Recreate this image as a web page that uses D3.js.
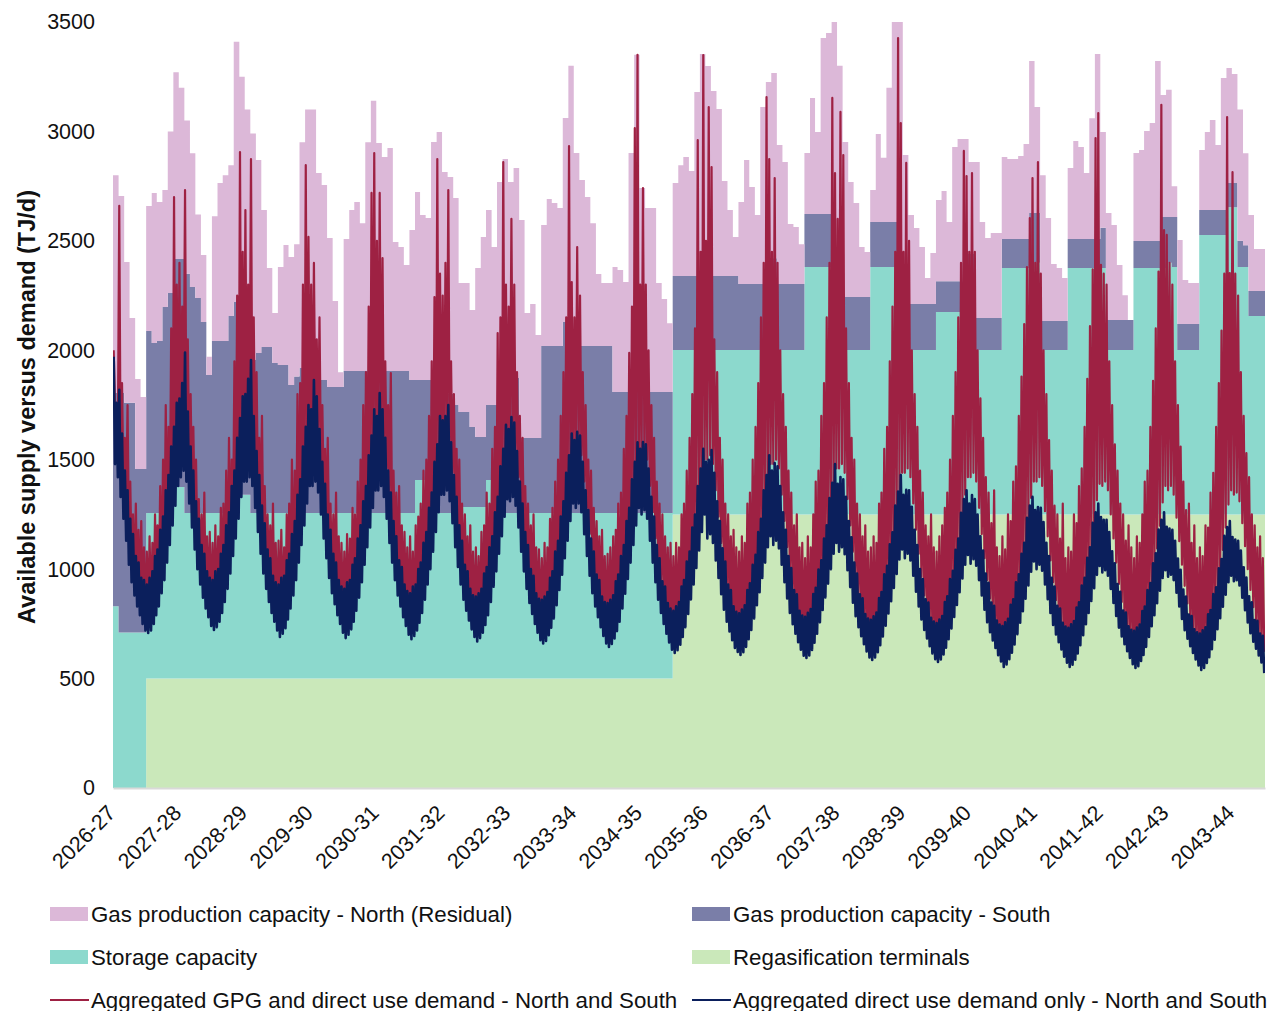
<!DOCTYPE html>
<html>
<head>
<meta charset="utf-8">
<script src="https://cdn.jsdelivr.net/npm/d3@7"></script>
<style>
  body { margin: 0; background: #ffffff; }
  svg text { font-family: "Liberation Sans", Arial, sans-serif; fill: #111; }
</style>
</head>
<body>
<svg id="chart" width="1273" height="1011"></svg>
<script>
// ---- Data -------------------------------------------------------------
// Financial years on the x axis (ticks on 1 July)
const yearLabels = ["2026-27","2027-28","2028-29","2029-30","2030-31","2031-32","2032-33","2033-34","2034-35",
  "2035-36","2036-37","2037-38","2038-39","2039-40","2040-41","2041-42","2042-43","2043-44"];

// Monthly supply capacity (TJ/d), one row per financial year, July..June (last row July..December)
const regasTerminals = [
  [0,0,0,0,0,0,500,500,500,500,500,500],
  [500,500,500,500,500,500,500,500,500,500,500,500],
  [500,500,500,500,500,500,500,500,500,500,500,500],
  [500,500,500,500,500,500,500,500,500,500,500,500],
  [500,500,500,500,500,500,500,500,500,500,500,500],
  [500,500,500,500,500,500,500,500,500,500,500,500],
  [500,500,500,500,500,500,500,500,500,500,500,500],
  [500,500,500,500,500,500,500,500,500,500,500,500],
  [500,500,500,500,500,500,1250,1250,1250,1250,1250,1250],
  [1250,1250,1250,1250,1250,1250,1250,1250,1250,1250,1250,1250],
  [1250,1250,1250,1250,1250,1250,1250,1250,1250,1250,1250,1250],
  [1250,1250,1250,1250,1250,1250,1250,1250,1250,1250,1250,1250],
  [1250,1250,1250,1250,1250,1250,1250,1250,1250,1250,1250,1250],
  [1250,1250,1250,1250,1250,1250,1250,1250,1250,1250,1250,1250],
  [1250,1250,1250,1250,1250,1250,1250,1250,1250,1250,1250,1250],
  [1250,1250,1250,1250,1250,1250,1250,1250,1250,1250,1250,1250],
  [1250,1250,1250,1250,1250,1250,1250,1250,1250,1250,1250,1250],
  [1250,1250,1250,1250,1250,1250]
];

const storageCapacity = [
  [830,710,710,710,710,710,757,757,757,757,875,875],
  [875,757,757,757,757,757,757,757,757,757,840,840],
  [840,757,757,757,757,757,757,757,757,757,757,757],
  [757,757,757,757,757,757,757,757,757,757,757,757],
  [757,757,757,757,757,757,757,907,907,757,757,757],
  [757,757,757,784,784,784,784,784,907,907,757,757],
  [757,757,757,757,757,757,757,757,757,757,757,757],
  [757,757,757,757,757,757,757,757,757,757,757,757],
  [757,757,757,757,757,757,751,751,751,751,751,751],
  [751,751,751,751,751,751,751,751,751,751,751,751],
  [751,751,751,751,751,751,1131,1131,1131,1131,1131,751],
  [751,751,751,751,751,751,1131,1131,1131,1131,1131,751],
  [751,751,751,751,751,751,925,925,925,925,925,1039],
  [1039,751,751,751,751,751,1126,1126,1126,1126,1126,1150],
  [1150,751,751,751,751,751,1126,1126,1126,1126,1126,1126],
  [1126,751,751,751,751,751,1126,1126,1126,1126,1126,1126],
  [1150,1130,751,751,751,751,1277,1277,1277,1277,1277,1404],
  [1404,1131,1131,907,907,907]
];

const southProduction = [
  [975,1095,1050,1050,748,748,831,776,785,941,887,1042],
  [1042,1093,1032,982,872,630,785,785,785,900,881,881],
  [760,699,731,758,758,685,676,676,584,623,662,662],
  [607,607,607,575,575,575,648,648,648,648,648,648],
  [648,648,648,648,648,648,607,457,457,607,607,543],
  [543,543,493,434,434,366,320,320,343,343,616,616],
  [616,616,342,342,342,342,763,763,763,763,872,763],
  [763,763,763,763,763,763,763,552,552,552,552,552],
  [552,552,552,552,552,552,338,338,338,338,338,338],
  [457,338,338,338,338,338,302,302,302,302,302,302],
  [420,302,302,302,302,302,242,242,242,242,242,242],
  [242,242,242,242,242,242,205,205,205,205,205,210],
  [210,210,210,210,210,210,141,141,141,141,141,151],
  [151,147,147,147,147,147,132,132,132,132,132,227],
  [227,133,133,133,133,133,132,132,132,132,132,132],
  [184,137,137,137,137,137,123,123,123,123,123,233],
  [209,229,119,119,119,119,114,114,114,114,114,110],
  [110,119,99,114,114,114]
];

const northResidual = [
  [995,900,643,388,411,329,571,686,636,534,738,853],
  [783,700,611,381,306,83,571,722,758,689,1189,1029],
  [1000,1034,881,626,361,228,447,548,585,605,1031,1181],
  [1236,946,891,681,393,68,603,736,773,676,1045,1235],
  [1042,978,1019,590,567,485,686,859,754,740,1088,1197],
  [1015,992,946,589,589,534,772,914,891,722,896,1001],
  [896,960,996,571,612,471,552,671,653,630,932,1280],
  [881,758,680,561,328,287,287,571,558,503,1092,1541],
  [932,841,841,498,425,315,425,507,544,480,841,1015],
  [841,846,763,434,302,179,375,567,443,315,809,923],
  [846,635,557,274,260,182,278,530,374,804,827,1257],
  [1057,709,526,430,229,206,146,402,294,614,914,1289],
  [681,407,348,261,119,233,371,412,270,613,649,525],
  [420,712,438,365,388,388,375,366,366,380,434,695],
  [485,666,470,260,242,196,325,448,421,302,552,846],
  [437,489,434,252,114,0,402,416,503,539,823,557],
  [581,141,384,201,187,187,274,356,411,297,603,526],
  [498,600,420,347,192,192]
];

// Half-monthly daily demand range (TJ/d): upper and lower daily values in each half month
const gpgDemandHigh = [
  [2000,1700,2660,1850,1600,1750,1400,1250,1300,1180,1220,1100,1080,1150,1120,1250,1200,1380,1500,1750,1650,2100,2700,2300],
  [2400,2200,2732,2050,1800,1650,1500,1320,1250,1350,1150,1170,1120,1200,1150,1280,1300,1450,1600,1500,1950,2250,2906,2450],
  [2641,2300,2874,2150,1900,1600,1700,1380,1250,1200,1300,1120,1130,1180,1100,1250,1300,1500,1450,1800,1850,2300,2846,2518],
  [2300,2399,2050,2150,1750,1550,1600,1300,1250,1350,1150,1120,1080,1160,1140,1280,1250,1400,1500,1750,1900,2200,2719,2901],
  [2500,2719,2421,1950,1750,1896,1450,1350,1380,1200,1170,1100,1150,1080,1200,1240,1300,1450,1500,1700,1950,2243,2874,2350],
  [2250,2400,2732,1950,1800,1550,1500,1300,1250,1150,1200,1080,1100,1060,1170,1200,1350,1300,1550,1650,2079,2150,2860,2300],
  [2200,2600,2300,1900,1700,1600,1380,1300,1200,1250,1100,1090,1050,1120,1100,1230,1280,1400,1500,1700,1900,2150,2933,2312],
  [2150,2472,2250,1900,1750,1500,1450,1280,1220,1150,1180,1060,1070,1100,1150,1180,1300,1350,1550,1700,1988,2200,3015,3350],
  [2300,2741,2300,2000,1750,1600,1400,1300,1250,1150,1100,1120,1060,1120,1100,1250,1300,1450,1600,1800,2100,2960,2450,3349],
  [2500,3111,2837,2050,1900,1600,1500,1300,1250,1150,1180,1100,1080,1150,1120,1300,1350,1500,1650,1850,2150,2400,3157,2874],
  [2450,2787,2400,2000,1800,1650,1450,1350,1200,1250,1100,1120,1050,1150,1100,1250,1400,1450,1700,1850,2150,2400,3153,2810],
  [2600,3089,2892,2100,1850,1600,1500,1300,1250,1150,1200,1080,1100,1150,1120,1300,1350,1550,1650,1950,2200,2450,3427,3038],
  [2450,2856,2500,2000,1800,1650,1450,1350,1200,1150,1250,1100,1080,1150,1200,1280,1350,1500,1700,1900,2150,2400,2911,2796],
  [2450,2810,2450,2000,1780,1600,1420,1350,1210,1360,1100,1060,1150,1090,1250,1220,1400,1470,1700,1880,2120,2380,2604,2787],
  [2400,2860,2350,2000,1800,1590,1450,1290,1250,1140,1300,1050,1100,1080,1250,1210,1380,1460,1650,1870,2110,2370,2970,3084],
  [2390,2350,2300,1950,1750,1570,1450,1300,1250,1130,1200,1100,1050,1150,1120,1250,1400,1450,1650,1860,2100,2360,3122,2549],
  [2527,2400,2300,1950,1750,1560,1400,1270,1300,1120,1200,1050,1100,1060,1200,1190,1350,1440,1650,1850,2090,2350,3066,2353],
  [2814,2350,2250,1900,1700,1530,1420,1250,1200,1100,1150,1050]
];

const gpgDemandLow = [
  [1750,1600,1500,1400,1300,1150,1050,960,900,850,820,790,780,800,830,870,920,980,1060,1150,1260,1380,1500,1600],
  [1650,1700,1650,1500,1380,1250,1120,1020,950,890,840,800,790,810,840,880,930,1000,1080,1180,1290,1400,1520,1620],
  [1650,1700,1650,1500,1370,1240,1110,1010,940,880,830,790,770,790,820,860,910,980,1060,1160,1270,1380,1500,1600],
  [1620,1650,1600,1480,1350,1220,1100,1000,930,870,820,780,760,780,810,850,900,970,1050,1150,1250,1360,1480,1580],
  [1600,1630,1580,1460,1330,1200,1080,990,920,860,810,770,750,770,800,840,890,960,1040,1130,1230,1340,1460,1560],
  [1580,1600,1560,1440,1310,1180,1070,980,910,850,800,760,740,760,790,830,880,950,1030,1120,1220,1330,1450,1540],
  [1560,1580,1540,1420,1290,1170,1060,970,900,840,790,750,730,750,780,820,870,940,1020,1110,1210,1320,1440,1530],
  [1540,1560,1520,1400,1280,1160,1050,960,890,830,780,740,720,740,770,810,860,930,1010,1100,1200,1310,1430,1520],
  [1520,1540,1500,1380,1260,1140,1030,940,870,810,760,720,700,720,750,790,840,910,990,1080,1180,1290,1410,1500],
  [1500,1520,1480,1360,1240,1120,1010,920,850,790,740,700,680,700,730,770,820,890,970,1060,1160,1270,1390,1480],
  [1480,1500,1460,1340,1220,1100,990,900,830,770,720,680,660,680,710,750,800,870,950,1040,1140,1250,1370,1460],
  [1460,1480,1440,1320,1200,1080,975,890,820,760,712,672,652,672,702,742,792,862,942,1030,1130,1240,1360,1440],
  [1440,1460,1420,1300,1180,1070,965,880,812,752,705,665,645,665,695,735,785,855,935,1020,1120,1230,1340,1420],
  [1420,1440,1400,1280,1160,1050,950,866,800,742,695,655,635,655,685,725,775,845,925,1010,1110,1215,1325,1400],
  [1400,1420,1380,1265,1150,1040,940,858,792,735,688,648,628,648,678,718,768,838,918,1002,1100,1205,1315,1390],
  [1380,1400,1360,1250,1140,1030,932,850,785,728,682,642,622,642,672,712,762,832,912,996,1094,1198,1305,1380],
  [1360,1380,1340,1235,1128,1020,924,843,779,722,676,636,616,636,666,706,756,826,906,990,1088,1190,1295,1360],
  [1340,1350,1310,1210,1105,1000,905,826,763,707,662,622]
];

const directDemandHigh = [
  [1970,1760,1820,1620,1450,1360,1230,1160,1060,1030,960,950,930,960,990,1060,1090,1180,1240,1360,1430,1560,1650,1760],
  [1780,1850,1990,1720,1560,1450,1310,1230,1110,1070,990,960,950,990,1000,1070,1110,1200,1260,1380,1450,1600,1690,1790],
  [1800,1870,1955,1700,1540,1430,1290,1210,1090,1050,970,940,930,960,970,1040,1070,1160,1220,1340,1410,1560,1650,1750],
  [1730,1864,1790,1640,1490,1390,1250,1180,1070,1030,950,920,910,940,950,1020,1050,1140,1200,1310,1380,1520,1610,1730],
  [1700,1805,1730,1600,1450,1350,1220,1150,1040,1010,930,900,890,920,930,1000,1030,1120,1170,1280,1350,1490,1570,1700],
  [1680,1700,1750,1580,1430,1330,1200,1130,1020,990,910,880,875,890,910,980,1010,1100,1150,1260,1330,1470,1550,1660],
  [1640,1695,1670,1540,1400,1300,1170,1110,1000,970,890,865,860,875,895,960,990,1080,1130,1240,1310,1440,1520,1620],
  [1590,1627,1610,1490,1360,1270,1140,1080,975,950,875,850,845,860,880,945,975,1060,1110,1220,1280,1410,1490,1580],
  [1550,1581,1570,1460,1330,1240,1110,1050,945,920,845,820,810,830,850,920,950,1035,1080,1190,1250,1380,1460,1550],
  [1490,1500,1544,1440,1310,1220,1095,1035,930,905,830,805,798,815,835,905,935,1020,1065,1170,1230,1360,1430,1520],
  [1450,1485,1470,1380,1260,1180,1060,1005,905,885,810,788,782,800,818,886,915,998,1040,1140,1200,1325,1395,1480],
  [1390,1421,1410,1330,1220,1145,1030,980,885,867,795,774,768,785,802,868,895,976,1015,1113,1168,1290,1355,1430],
  [1340,1362,1360,1285,1180,1110,1000,955,862,847,778,760,754,770,786,850,876,955,992,1088,1140,1258,1320,1360],
  [1300,1339,1320,1250,1150,1085,980,938,847,833,765,747,740,757,773,837,862,940,976,1070,1120,1235,1290,1330],
  [1270,1284,1280,1215,1120,1060,960,920,832,820,755,738,732,748,763,825,848,925,960,1052,1100,1212,1260,1300],
  [1238,1225,1225,1170,1082,1027,932,896,811,802,739,723,718,733,747,808,829,904,937,1027,1072,1181,1225,1260],
  [1193,1185,1180,1130,1048,997,907,875,792,786,725,711,706,721,734,794,813,886,917,1004,1046,1152,1192,1220],
  [1147,1135,1130,1085,1008,962,876,848,767,764,706,695]
];

const directDemandLow = [
  [1480,1420,1330,1230,1130,1020,940,880,830,790,750,720,708,720,750,790,830,890,950,1030,1110,1200,1290,1380],
  [1420,1450,1400,1300,1190,1090,1000,930,870,820,780,740,722,735,760,800,850,910,980,1060,1140,1230,1330,1400],
  [1400,1420,1380,1280,1170,1070,980,910,850,800,760,720,690,705,730,770,820,880,950,1030,1110,1200,1300,1380],
  [1380,1400,1350,1250,1140,1050,960,890,840,790,750,710,685,700,725,760,810,870,940,1020,1100,1190,1280,1360],
  [1360,1380,1330,1230,1120,1030,950,880,830,780,740,700,680,695,720,755,800,860,930,1000,1080,1170,1260,1340],
  [1340,1360,1310,1210,1100,1010,930,860,810,765,725,690,670,685,710,745,790,850,920,990,1070,1150,1240,1320],
  [1310,1330,1290,1190,1080,990,910,845,795,750,710,675,660,672,698,732,775,835,905,975,1050,1130,1220,1300],
  [1280,1300,1260,1160,1060,970,890,830,780,735,695,660,645,658,683,717,760,820,888,955,1030,1110,1200,1280],
  [1250,1270,1230,1130,1030,940,860,800,750,705,665,632,617,630,655,690,735,795,862,930,1005,1085,1170,1250],
  [1140,1160,1120,1040,960,885,815,760,715,675,640,622,608,620,645,680,722,775,835,895,960,1030,1100,1150],
  [1110,1130,1095,1020,940,866,800,748,705,666,632,604,594,606,631,664,705,757,813,871,934,1000,1070,1120],
  [1080,1100,1068,995,918,847,785,735,694,657,624,596,585,596,620,652,692,742,797,853,914,978,1044,1090],
  [1050,1070,1040,970,897,830,770,722,683,648,615,588,576,587,610,641,680,729,782,836,895,957,1020,1065],
  [1025,1045,1016,950,880,815,757,712,674,640,607,578,553,565,588,618,656,703,755,808,865,925,988,1035],
  [1000,1020,993,930,863,800,745,702,666,633,600,572,553,563,586,615,652,698,748,800,855,913,974,1015],
  [985,995,970,910,846,786,733,692,657,625,594,566,548,557,580,608,645,690,739,790,844,901,960,995],
  [965,975,950,892,830,772,721,682,648,617,587,560,539,549,571,598,634,678,726,776,828,883,940,970],
  [945,950,925,870,812,756,707,669,637,606,574,525]
];

// ---- Layout -----------------------------------------------------------
const PLOT = { left: 113, right: 1265, top: 22, bottom: 788 };
const seriesColors = {
  north: "#dcb8d8",
  south: "#7a7ea8",
  storage: "#8cd9cd",
  regas: "#cae8ba",
  gpg: "#9e2143",
  direct: "#0b1f5c"
};

const svg = d3.select("#chart");
const startDate = new Date(2026, 6, 1);
const endDate = new Date(2044, 0, 1);

const x = d3.scaleTime().domain([startDate, endDate]).range([PLOT.left, PLOT.right]);
const y = d3.scaleLinear().domain([0, 3500]).range([PLOT.bottom, PLOT.top]);

// ---- Stacked monthly capacity ----------------------------------------
const regasM = regasTerminals.flat();
const storageM = storageCapacity.flat();
const southM = southProduction.flat();
const northM = northResidual.flat();

const monthRows = regasM.map((v, i) => ({
  date: new Date(2026, 6 + i, 1),
  regas: v,
  storage: storageM[i],
  south: southM[i],
  north: northM[i]
}));
// carry the last month through to the end of the axis
monthRows.push(Object.assign({}, monthRows[monthRows.length - 1], { date: endDate }));

const stackKeys = ["regas", "storage", "south", "north"];
const stacked = d3.stack().keys(stackKeys)(monthRows);

svg.append("defs").append("clipPath").attr("id", "plot-clip")
  .append("rect")
  .attr("x", PLOT.left).attr("y", PLOT.top)
  .attr("width", PLOT.right - PLOT.left).attr("height", PLOT.bottom - PLOT.top);

const plot = svg.append("g").attr("clip-path", "url(#plot-clip)");

const area = d3.area()
  .curve(d3.curveStepAfter)
  .x(d => x(d.data.date))
  .y0(d => y(d[0]))
  .y1(d => y(d[1]));

plot.selectAll("path.band")
  .data(stacked)
  .join("path")
  .attr("class", "band")
  .attr("fill", d => seriesColors[d.key])
  .attr("d", area);

// ---- Daily demand ranges drawn as a dense trace --------------------------
function halfMonthTrace(highRows, lowRows) {
  const hi = highRows.flat(), lo = lowRows.flat();
  const pts = [];
  hi.forEach((h, i) => {
    const m = Math.floor(i / 2), second = i % 2 === 1;
    const s = second ? new Date(2026, 6 + m, 16) : new Date(2026, 6 + m, 1);
    const e = second ? new Date(2026, 6 + m + 1, 1) : new Date(2026, 6 + m, 16);
    const span = e - s;
    pts.push({ date: new Date(+s + span * 0.25), v: h });
    pts.push({ date: new Date(+s + span * 0.75), v: lo[i] });
  });
  return pts;
}

const line = d3.line().x(d => x(d.date)).y(d => y(d.v));

plot.append("path")
  .datum(halfMonthTrace(gpgDemandHigh, gpgDemandLow))
  .attr("fill", "none")
  .attr("stroke", seriesColors.gpg)
  .attr("stroke-width", 2.2)
  .attr("stroke-linejoin", "round")
  .attr("d", line);

plot.append("path")
  .datum(halfMonthTrace(directDemandHigh, directDemandLow))
  .attr("fill", "none")
  .attr("stroke", seriesColors.direct)
  .attr("stroke-width", 2.6)
  .attr("stroke-linejoin", "round")
  .attr("d", line);

// ---- Axes ------------------------------------------------------------
const yTicks = d3.range(0, 3501, 500);
const yAxis = svg.append("g")
  .attr("transform", `translate(${PLOT.left},0)`)
  .call(d3.axisLeft(y).tickValues(yTicks).tickSize(0).tickPadding(18).tickFormat(d3.format("d")));
yAxis.select(".domain").remove();
yAxis.selectAll("text")
  .style("font-size", "21.5px")
  .style("font-family", "'Liberation Sans', Arial, sans-serif")
  .attr("fill", "#111");

const yearStarts = yearLabels.map((_, i) => new Date(2026 + i, 6, 1));
const xAxis = svg.append("g")
  .attr("transform", `translate(0,${PLOT.bottom})`)
  .call(d3.axisBottom(x).tickValues(yearStarts).tickSize(0).tickFormat((d, i) => yearLabels[i]));
xAxis.select(".domain").attr("stroke", "#d9d9d9").attr("stroke-width", 2);
xAxis.selectAll(".tick text")
  .style("font-size", "21.5px")
  .style("font-family", "'Liberation Sans', Arial, sans-serif")
  .attr("fill", "#111")
  .attr("text-anchor", "end")
  .attr("dy", "0.35em")
  .attr("transform", "translate(-2,21) rotate(-45)")
  .attr("y", 0)
  .attr("x", 0);

svg.append("text")
  .attr("transform", "translate(27,407) rotate(-90)")
  .attr("text-anchor", "middle")
  .attr("dominant-baseline", "central")
  .style("font-size", "23.5px")
  .style("font-weight", "bold")
  .text("Available supply versus demand (TJ/d)");

// ---- Legend ----------------------------------------------------------
const legendItems = [
  { label: "Gas production capacity - North (Residual)", color: seriesColors.north, kind: "box", col: 0, row: 0 },
  { label: "Gas production capacity - South", color: seriesColors.south, kind: "box", col: 1, row: 0 },
  { label: "Storage capacity", color: seriesColors.storage, kind: "box", col: 0, row: 1 },
  { label: "Regasification terminals", color: seriesColors.regas, kind: "box", col: 1, row: 1 },
  { label: "Aggregated GPG and direct use demand - North and South", color: seriesColors.gpg, kind: "line", col: 0, row: 2 },
  { label: "Aggregated direct use demand only - North and South", color: seriesColors.direct, kind: "line", col: 1, row: 2 }
];
const legendCols = [50, 692];
const legendRows = [914, 957, 1000];

const lg = svg.append("g").selectAll("g").data(legendItems).join("g")
  .attr("transform", d => `translate(${legendCols[d.col]},${legendRows[d.row]})`);
lg.filter(d => d.kind === "box").append("rect")
  .attr("x", 0).attr("y", -7).attr("width", 38).attr("height", 14)
  .attr("fill", d => d.color);
lg.filter(d => d.kind === "line").append("line")
  .attr("x1", 0).attr("x2", 39).attr("y1", 0).attr("y2", 0)
  .attr("stroke", d => d.color).attr("stroke-width", 2);
lg.append("text")
  .attr("x", 41).attr("y", 0)
  .attr("dominant-baseline", "central")
  .style("font-size", "22.3px")
  .text(d => d.label);
</script>
</body>
</html>
